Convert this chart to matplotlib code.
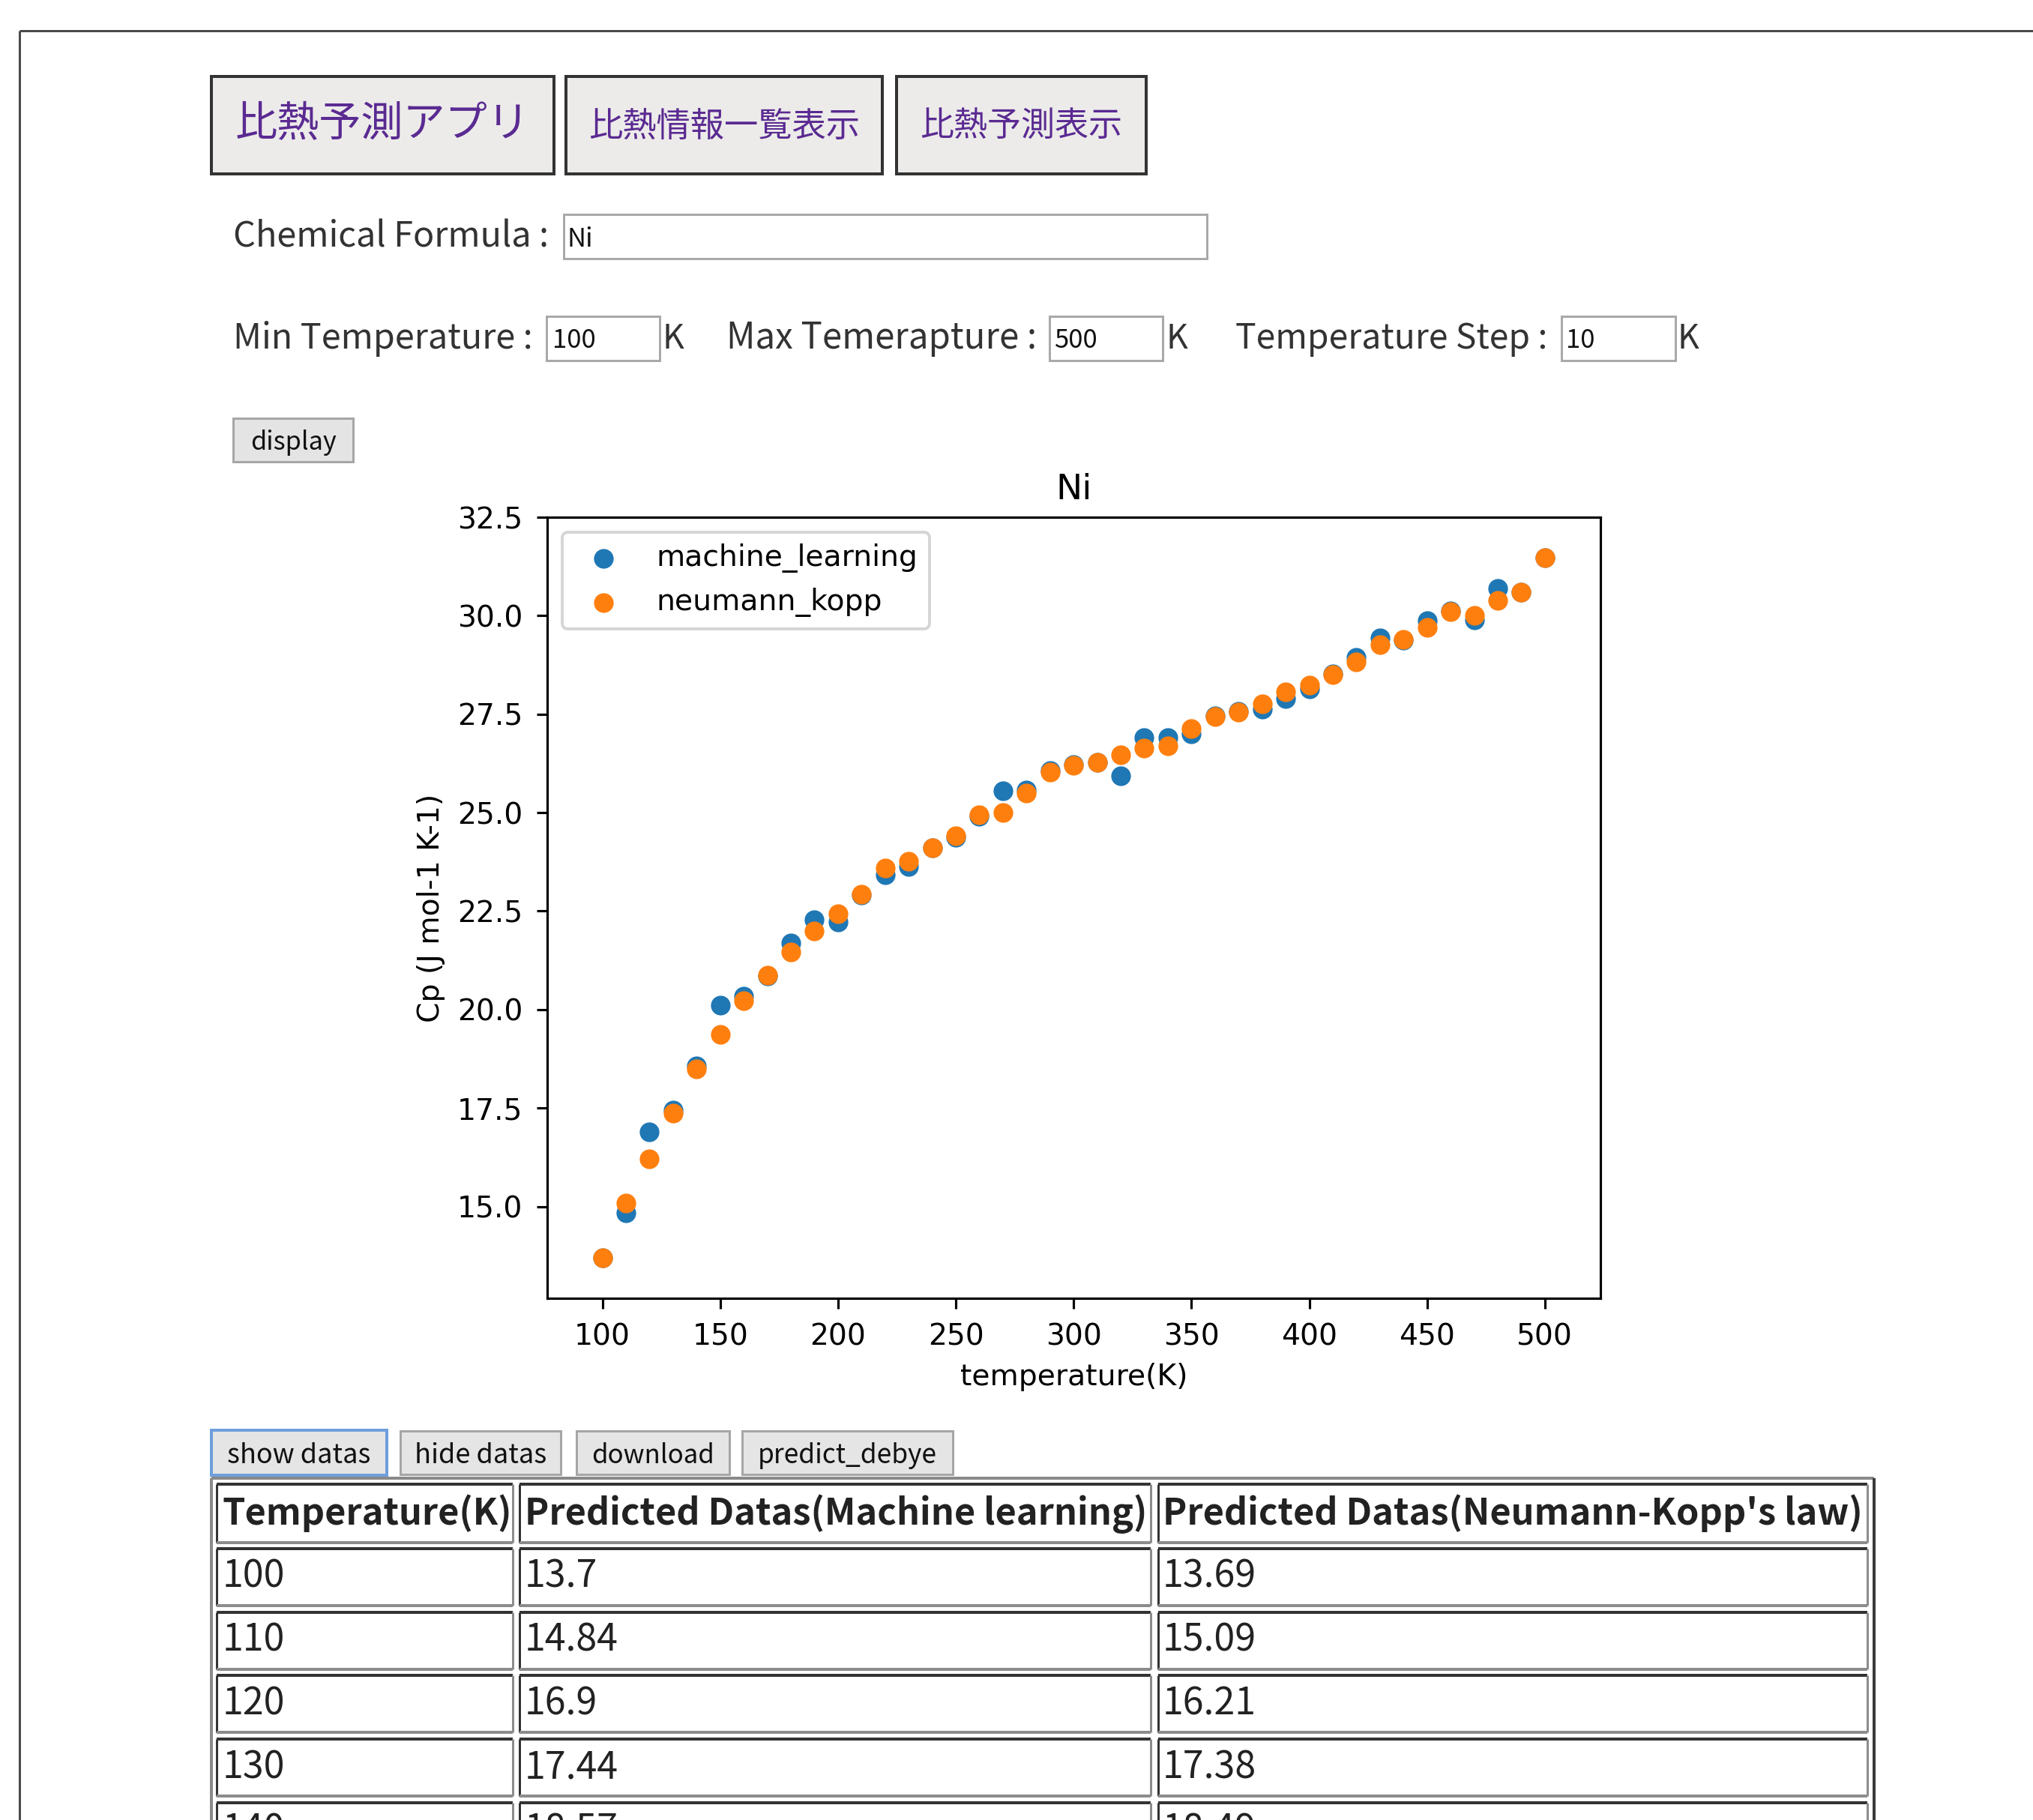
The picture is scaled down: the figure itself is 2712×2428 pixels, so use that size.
import matplotlib
matplotlib.use("Agg")
import matplotlib.pyplot as plt
from matplotlib.patches import Rectangle

# ---------------------------------------------------------------- data
temps = [100, 110, 120, 130, 140, 150, 160, 170, 180, 190,
         200, 210, 220, 230, 240, 250, 260, 270, 280, 290,
         300, 310, 320, 330, 340, 350, 360, 370, 380, 390,
         400, 410, 420, 430, 440, 450, 460, 470, 480, 490, 500]

cp_machine_learning = [13.70, 14.84, 16.90, 17.44, 18.57, 20.12, 20.33, 20.86, 21.69, 22.29,
                       22.22, 22.90, 23.43, 23.64, 24.10, 24.38, 24.91, 25.56, 25.58, 26.06,
                       26.22, 26.28, 25.93, 26.91, 26.91, 27.00, 27.45, 27.58, 27.63, 27.89,
                       28.14, 28.52, 28.94, 29.44, 29.37, 29.88, 30.12, 29.89, 30.69, 30.60, 31.47]

cp_neumann_kopp = [13.69, 15.09, 16.21, 17.38, 18.49, 19.36, 20.23, 20.87, 21.47, 22.00,
                   22.43, 22.93, 23.60, 23.76, 24.11, 24.41, 24.94, 25.00, 25.49, 26.03,
                   26.21, 26.27, 26.47, 26.64, 26.69, 27.13, 27.44, 27.56, 27.76, 28.07,
                   28.24, 28.51, 28.83, 29.27, 29.40, 29.71, 30.10, 30.00, 30.39, 30.60, 31.47]

series_names = ["machine_learning", "neumann_kopp"]
chart_title = "Ni"
x_label = "temperature(K)"
y_label = "Cp (J mol-1 K-1)"
x_ticks = [100, 150, 200, 250, 300, 350, 400, 450, 500]
y_ticks = [15.0, 17.5, 20.0, 22.5, 25.0, 27.5, 30.0, 32.5]

nav_buttons = ["比熱予測アプリ", "比熱情報一覧表示", "比熱予測表示"]
formula = "Ni"
t_min, t_max, t_step = "100", "500", "10"
data_buttons = ["show datas", "hide datas", "download", "predict_debye"]
table_headers = ["Temperature(K)", "Predicted Datas(Machine learning)",
                 "Predicted Datas(Neumann-Kopp's law)"]
table_rows = 5

# ---------------------------------------------------------------- page
W, H, DPI = 2712, 2428, 100
PX = 72.0 / DPI          # points per pixel
K = 2.83                 # scale of the embedded chart relative to a default figure
UI_FONT = ["Noto Sans CJK JP", "DejaVu Sans"]
plt.rcParams["font.family"] = ["DejaVu Sans"]

fig = plt.figure(figsize=(W / DPI, H / DPI), dpi=DPI)
fig.patch.set_facecolor("white")
page = fig.add_axes([0, 0, 1, 1])
page.set_xlim(0, W)
page.set_ylim(H, 0)
page.axis("off")
renderer = fig.canvas.get_renderer()


def box(x0, y0, x1, y1, fc="white", ec="#333333", lw=3, z=1):
    page.add_patch(Rectangle((x0, y0), x1 - x0, y1 - y0, facecolor=fc,
                             edgecolor=ec, linewidth=lw * PX, zorder=z))


def hline(x0, x1, y, color, lw, z=2):
    page.plot([x0, x1], [y, y], color=color, linewidth=lw * PX, zorder=z,
              solid_capstyle="butt")


def vline(x, y0, y1, color, lw, z=2):
    page.plot([x, x], [y0, y1], color=color, linewidth=lw * PX, zorder=z,
              solid_capstyle="butt")


def label(x, y, s, width=None, size=30, color="#333333", ha="left",
          va="baseline", weight="normal"):
    t = page.text(x, y, s, fontsize=size, color=color, ha=ha, va=va,
                  fontweight=weight, family=UI_FONT, zorder=6)
    if width is not None:
        w = t.get_window_extent(renderer).width
        t.set_fontsize(size * width / w)
    return t


# outer frame of the page
hline(26, W, 41, "#4a4a4a", 3)
vline(26, 41, H, "#4a4a4a", 3)

# navigation buttons
nav_boxes = [(282, 102, 739, 232), (755, 102, 1177, 232), (1196, 102, 1529, 232)]
nav_widths = [393, 362, 270]
for (x0, y0, x1, y1), name, tw in zip(nav_boxes, nav_buttons, nav_widths):
    box(x0, y0, x1, y1, fc="#ecebea", ec="#333333", lw=4)
    label((x0 + x1) / 2, 182, name, width=tw, color="#5a2a91", ha="center")

# form: chemical formula
label(311, 329, "Chemical Formula :", width=422)
box(752, 286, 1610, 345, fc="white", ec="#a9a9a9", lw=3)
label(757, 329, formula, size=25, color="#111111")

# form: temperatures
label(311, 465, "Min Temperature :", width=400)
box(729, 422, 880, 481, fc="white", ec="#a9a9a9", lw=3)
label(737, 464, t_min, size=25, color="#111111")
label(884, 465, "K", width=29)

label(969, 465, "Max Temerapture :", width=414)
box(1400, 422, 1551, 481, fc="white", ec="#a9a9a9", lw=3)
label(1406, 464, t_max, size=25, color="#111111")
label(1556, 465, "K", width=29)

label(1648, 465, "Temperature Step :", width=416)
box(2083, 422, 2235, 481, fc="white", ec="#a9a9a9", lw=3)
label(2089, 464, t_step, size=25, color="#111111")
label(2237, 465, "K", width=29)

# display button
box(311, 558, 471, 616, fc="#e4e4e4", ec="#a6a6a6", lw=3)
label(391, 600, "display", width=115, color="#111111", ha="center")

# ---------------------------------------------------------------- chart
ax = fig.add_axes([730 / W, 1 - 1732 / H, 1405 / W, 1042 / H])
ax.scatter(temps, cp_machine_learning, s=320, color="C0",
           label=series_names[0], zorder=2)
ax.scatter(temps, cp_neumann_kopp, s=320, color="C1",
           label=series_names[1], zorder=3)
ax.set_xlim(76.6, 523.6)
ax.set_ylim(12.67, 32.5)
ax.set_xticks(x_ticks)
ax.set_yticks(y_ticks)
ax.set_yticklabels([f"{v:.1f}" for v in y_ticks])
ax.tick_params(labelsize=10 * K, length=3.5 * K, width=0.8 * K, pad=3.5 * K + 3.6)
for sp in ax.spines.values():
    sp.set_linewidth(0.8 * K)
ax.set_title(chart_title, fontsize=12 * K, pad=6 * K)
ax.set_xlabel(x_label, fontsize=10 * K, labelpad=4 * K)
ax.set_ylabel(y_label, fontsize=10 * K, labelpad=4 * K)
leg = ax.legend(loc="upper left", fontsize=10 * K)
leg.get_frame().set_linewidth(1.0 * K)

# ---------------------------------------------------------------- data buttons
btn_boxes = [(282, 1908, 516, 1968), (534, 1909, 748, 1967),
             (769, 1909, 973, 1967), (990, 1909, 1271, 1967)]
btn_widths = [191, 176, 164, 239]
for i, ((x0, y0, x1, y1), name, tw) in enumerate(zip(btn_boxes, data_buttons, btn_widths)):
    if i == 0:
        box(x0, y0, x1, y1, fc="#e5e5e5", ec="#6f9fdc", lw=4)
    else:
        box(x0, y0, x1, y1, fc="#e5e5e5", ec="#a6a6a6", lw=3)
    label((x0 + x1) / 2, 1952, name, width=tw, color="#111111", ha="center")

# ---------------------------------------------------------------- table
col_x = [(289, 684), (693, 1535), (1545, 2491)]
header_y = (1980, 2058)
row_top0, row_pitch, row_h = 2066, 84.7, 76

# outer table border
vline(282, 1972, H, "#8a8a8a", 4)
hline(282, 2500, 1972, "#8a8a8a", 4)
vline(2500, 1972, H, "#3a3a3a", 4)


def cell(x0, x1, y0, y1):
    box(x0, y0, x1, y1, fc="white", ec="none", lw=0, z=1)
    hline(x0, x1, y0, "#333333", 4)
    vline(x0, y0, y1, "#333333", 3)
    hline(x0, x1, y1, "#8c8c8c", 4)
    vline(x1, y0, y1, "#8c8c8c", 3)


for x0, x1 in col_x:
    cell(x0, x1, *header_y)

hdr = label(col_x[2][0] + 6, 2034, table_headers[2], width=934,
            color="#222222", weight="bold")
hsize = hdr.get_fontsize()
label(col_x[0][0] + 8, 2034, table_headers[0], size=hsize, color="#222222", weight="bold")
label(col_x[1][0] + 7, 2034, table_headers[1], size=hsize, color="#222222", weight="bold")

probe = page.text(0, 0, "13.69", fontsize=30, family=UI_FONT)
bsize = 30 * 125 / probe.get_window_extent(renderer).width
probe.remove()

for r in range(table_rows):
    y0 = row_top0 + r * row_pitch
    for x0, x1 in col_x:
        cell(x0, x1, y0, y0 + row_h)
    base = y0 + 52
    label(col_x[0][0] + 8, base, f"{temps[r]}", size=bsize, color="#222222")
    label(col_x[1][0] + 7, base, f"{cp_machine_learning[r]:g}", size=bsize, color="#222222")
    label(col_x[2][0] + 6, base, f"{cp_neumann_kopp[r]:g}", size=bsize, color="#222222")

fig.savefig("out.png", dpi=DPI)
